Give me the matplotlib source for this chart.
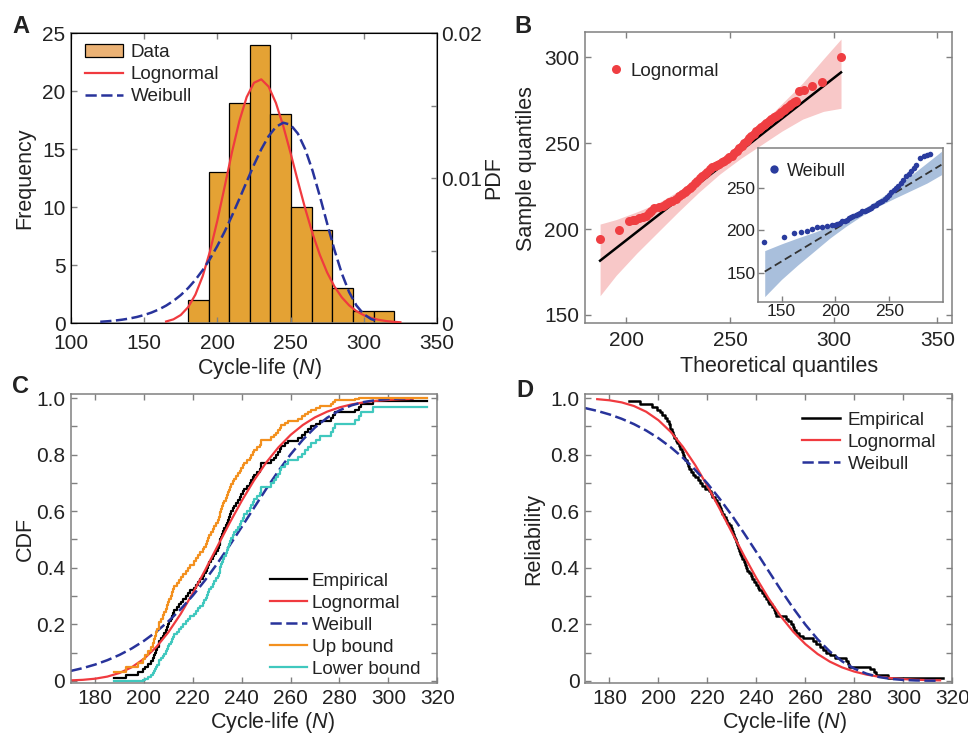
import numpy as np
import matplotlib
matplotlib.use('Agg')
import matplotlib.pyplot as plt
from matplotlib.patches import Patch
from matplotlib.lines import Line2D
from matplotlib.ticker import FixedLocator, MultipleLocator

plt.rcParams['font.family'] = ['Liberation Sans', 'DejaVu Sans']
plt.rcParams['mathtext.fontset'] = 'custom'
plt.rcParams['mathtext.rm'] = 'Liberation Sans'
plt.rcParams['mathtext.it'] = 'Liberation Sans:italic'
plt.rcParams['text.color'] = '#222222'
plt.rcParams['axes.labelcolor'] = '#222222'

# ---------------- panel A : histogram + fitted pdfs
hist_edges = [180.0, 194.0, 208.1, 222.0, 236.3, 250.5, 264.6, 278.5, 292.6, 306.7, 320.8]
hist_counts = [2, 13, 19, 24, 18, 10, 8, 3, 1, 1]

logn_pdf_x = [165, 170, 175, 180, 185, 190, 195, 200, 205, 210, 215, 220, 225, 230, 235, 240, 245,
              250, 255, 260, 265, 270, 275, 280, 285, 290, 295, 300, 305, 310, 315, 320, 325]
logn_pdf = [0.000106, 0.000255, 0.000553, 0.001089, 0.001958, 0.003239, 0.004960, 0.007066,
            0.009415, 0.011786, 0.013923, 0.015579, 0.016569, 0.016807, 0.016308, 0.015180,
            0.013589, 0.011727, 0.009777, 0.007892, 0.006180, 0.004702, 0.003483, 0.002514,
            0.001772, 0.001221, 0.000823, 0.000544, 0.000353, 0.000225, 0.000141, 0.000087, 0.000053]

weib_pdf_x = [120, 125, 130, 135, 140, 145, 150, 155, 160, 165, 170, 175, 180, 185, 190, 195, 200,
              205, 210, 215, 220, 225, 230, 235, 240, 245, 250, 255, 260, 265, 270, 275, 280, 285,
              290, 295, 300, 305, 310]
weib_pdf = [0.000087, 0.000122, 0.000169, 0.000231, 0.000313, 0.000417, 0.000552, 0.000722,
            0.000935, 0.001201, 0.001528, 0.001926, 0.002406, 0.002979, 0.003651, 0.004430,
            0.005319, 0.006312, 0.007398, 0.008556, 0.009742, 0.010909, 0.011984, 0.012887,
            0.013527, 0.013815, 0.013676, 0.013066, 0.011991, 0.010514, 0.008749, 0.006864,
            0.005035, 0.003421, 0.002134, 0.001208, 0.000613, 0.000274, 0.000107]

# ---------------- panel B : probability plots
logn_theo = [187.3, 196.5, 201.1, 203.0, 204.3, 206.3, 208.0, 209.5, 210.8, 211.9, 213.5, 215.5,
             217.5, 219.0, 220.6, 222.2, 223.8, 225.4, 227.0, 228.2, 229.4, 230.6, 231.7, 232.9,
             234.1, 235.3, 236.5, 237.7, 238.9, 240.1, 241.3, 242.5, 243.7, 244.8, 246.0, 247.2,
             248.4, 249.6, 250.8, 252.0, 253.2, 254.4, 255.6, 256.8, 258.0, 259.2, 260.3, 261.5,
             262.7, 263.9, 265.1, 266.3, 267.5, 268.7, 269.8, 271.0, 272.2, 273.4, 274.6, 275.8,
             277.0, 278.2, 279.4, 280.6, 281.7, 283.3, 285.7, 289.7, 294.4, 303.5]
logn_samp = [194.2, 199.4, 204.9, 205.2, 205.4, 206.2, 206.9, 207.8, 209.2, 210.7, 212.2, 212.7,
             213.2, 214.3, 215.5, 216.5, 217.5, 219.0, 220.4, 221.6, 222.8, 224.0, 225.2, 226.7,
             228.2, 229.6, 231.1, 232.3, 233.5, 234.7, 235.9, 236.6, 237.3, 238.0, 238.8, 239.8,
             240.7, 241.7, 242.7, 244.2, 245.6, 247.1, 248.5, 250.0, 251.5, 252.9, 254.4, 255.6,
             256.8, 258.0, 259.2, 260.4, 261.6, 262.8, 264.1, 265.1, 266.0, 267.0, 268.0, 269.2,
             270.4, 271.6, 272.8, 273.8, 274.8, 280.6, 281.2, 283.5, 285.4, 300.4]
logn_line_x = [187.3, 303.5]
logn_line_y = [181.6, 291.2]
logn_band_x = [187.3, 195, 205, 215, 225, 235, 245, 255, 265, 275, 285, 295, 303.5]
logn_band_lo = [161.2, 173, 186, 198, 210, 221.5, 232, 241, 249, 257, 264, 268.5, 270.3]
logn_band_hi = [202.9, 205.5, 210, 215, 222, 230.5, 240, 250.5, 261, 273, 285, 299, 310.6]

weib_theo = [133.8, 152.5, 161.9, 168.1, 173.4, 178.1, 182.8, 187.5, 192.2, 196.8, 199.5, 201.5,
             204.0, 206.2, 208.5, 210.5, 212.4, 214.5, 216.6, 218.7, 220.8, 222.9, 224.9, 227.0,
             229.1, 231.2, 233.3, 235.3, 237.4, 239.5, 241.5, 243.6, 245.7, 247.8, 249.9, 252.0,
             254.0, 256.1, 258.4, 260.8, 263.1, 265.5, 267.8, 270.2, 272.5, 274.8, 278.6, 282.6,
             285.0, 287.3]
weib_samp = [186.7, 191.9, 196.6, 197.9, 199.4, 201.4, 203.4, 203.8, 204.6, 205.8, 206.6, 207.7,
             208.8, 210.5, 211.6, 212.8, 214.4, 215.8, 217.1, 218.4, 219.7, 221.0, 222.3, 223.2,
             224.2, 225.1, 226.8, 228.5, 230.2, 231.8, 233.4, 235.0, 237.4, 239.8, 242.1, 244.8,
             247.4, 250.0, 253.0, 255.9, 259.9, 263.8, 266.8, 269.7, 273.6, 277.6, 285.5, 287.5,
             289.0, 290.6]
weib_line_x = [134.4, 298.3]
weib_line_y = [151.2, 277.6]
weib_band_x = [134.4, 150, 165, 180, 195, 210, 225, 240, 255, 270, 285, 298.3]
weib_band_lo = [121.6, 142, 159, 175, 191, 205, 217.6, 228.6, 238, 247, 256, 265.8]
weib_band_hi = [176, 184, 191, 197.5, 205, 214, 224.6, 236.6, 250, 265, 280, 293.4]

# ---------------- panels C, D : cdf / reliability
cycle_life = [187.8, 192.6, 197.5, 199.5, 200.5, 201.5, 202.8, 203.5, 204.2, 204.6,
              204.9, 205.5, 206.0, 206.3, 207.0, 207.6, 208.3, 209.0, 209.5, 210.0,
              210.4, 211.0, 211.5, 212.0, 212.4, 213.5, 214.3, 215.1, 216.0, 217.0,
              217.9, 219.0, 220.6, 221.3, 222.0, 223.0, 224.0, 224.7, 225.3, 225.7,
              226.1, 226.8, 227.5, 228.1, 228.8, 229.5, 230.2, 230.6, 231.0, 231.3,
              231.6, 232.0, 232.5, 232.9, 233.4, 233.8, 234.3, 234.8, 235.2, 235.7,
              236.3, 237.0, 237.7, 238.4, 239.1, 239.8, 240.5, 241.1, 242.2, 243.2,
              243.9, 244.6, 245.2, 246.3, 247.3, 247.7, 248.0, 252.1, 253.1, 254.1,
              254.8, 255.5, 256.2, 257.5, 258.9, 263.0, 264.5, 265.8, 267.2, 268.5,
              270.2, 271.9, 276.7, 277.5, 278.0, 286.3, 288.0, 289.0, 293.8, 316.0]
cdf_x = [170, 175, 180, 185, 190, 195, 200, 205, 210, 215, 220, 225, 230, 235, 240,
         245, 250, 255, 260, 265, 270, 275, 280, 285, 290, 295, 300, 305, 310, 315]
logn_cdf = [0.00136, 0.0033, 0.00729, 0.01474, 0.02755, 0.04787, 0.0778, 0.1189, 0.1720, 0.2364,
            0.3104, 0.3911, 0.4748, 0.5579, 0.6369, 0.7089, 0.7723, 0.8260, 0.8702, 0.9053,
            0.9324, 0.9527, 0.9676, 0.9782, 0.9856, 0.9907, 0.9941, 0.9963, 0.9977, 0.9986]
weib_cdf = [0.0347, 0.0448, 0.0573, 0.0728, 0.0916, 0.1143, 0.1413, 0.1733, 0.2105, 0.2533,
            0.3018, 0.3558, 0.4149, 0.4783, 0.5445, 0.6119, 0.6787, 0.7425, 0.8013, 0.8531,
            0.8966, 0.9312, 0.9571, 0.9751, 0.9867, 0.9935, 0.9971, 0.9989, 0.9996, 0.9999]

BAR = '#E4A234'
RED = '#F03A3F'
BLUE = '#28339B'
ORANGE = '#F3901E'
CYAN = '#40C8BE'
GRAY = '#808080'
DASH = (0, (4.5, 1.8))


def style(ax, size=15, top=True, right=True, pad=4, xpad=6):
    ax.tick_params(which='both', direction='in', top=top, right=right, length=4, width=1,
                   color=GRAY, labelsize=size, pad=pad, labelcolor='#222222')
    ax.tick_params(axis='x', pad=xpad)
    for s in ax.spines.values():
        s.set_color(GRAY)
        s.set_linewidth(1.1)


fig = plt.figure(figsize=(9.68, 7.36), dpi=100)

# ---- A
axA = fig.add_axes([0.0733, 0.5611, 0.3781, 0.3940])
axA.bar(hist_edges[:-1], hist_counts, width=np.diff(hist_edges), align='edge',
        color=BAR, edgecolor='black', linewidth=0.9)
axA.set_xlim(100, 350)
axA.set_ylim(0, 25)
axA.set_xticks([100, 150, 200, 250, 300, 350])
axA.set_yticks([0, 5, 10, 15, 20, 25])
style(axA, right=False, xpad=8)
axA.set_ylabel('Frequency', fontsize=15.5)
axA.yaxis.set_label_coords(-0.097, 0.5)
axA.set_xlabel('Cycle-life ($N$)', fontsize=15.5)
axA.xaxis.set_label_coords(0.515, -0.115)

axA2 = axA.twinx()
axA2.plot(logn_pdf_x, logn_pdf, color=RED, lw=1.6)
axA2.plot(weib_pdf_x, weib_pdf, color=BLUE, lw=1.8, linestyle=DASH)
axA2.set_ylim(0, 0.02)
axA2.yaxis.set_major_locator(FixedLocator([0, 0.01, 0.02]))
axA2.set_yticklabels(['0', '0.01', '0.02'])
axA2.yaxis.set_minor_locator(FixedLocator([0.005, 0.015]))
axA2.tick_params(which='both', direction='in', left=False, right=True, length=4, width=1,
                 color=GRAY, labelsize=15, pad=3, labelcolor='#222222')
axA2.set_ylabel('PDF', fontsize=15.5)
axA2.yaxis.set_label_coords(1.127, 0.5)
hA = [Patch(facecolor='#EBB275', edgecolor='black', linewidth=0.9),
      Line2D([], [], color=RED, lw=1.6),
      Line2D([], [], color=BLUE, lw=1.8, linestyle=DASH)]
axA2.legend(hA, ['Data', 'Lognormal', 'Weibull'], loc='upper left', bbox_to_anchor=(0.039, 0.962),
            frameon=False, fontsize=13.6, handlelength=2.0, handletextpad=0.42,
            labelspacing=0.25, borderpad=0, borderaxespad=0)

# ---- B
axB = fig.add_axes([0.6043, 0.5611, 0.3791, 0.3954])
axB.fill_between(logn_band_x, logn_band_lo, logn_band_hi, color='#F8C8C8', lw=0)
axB.plot(logn_line_x, logn_line_y, color='black', lw=1.8)
axB.plot(logn_theo, logn_samp, 'o', color='#EF3E42', ms=6.5, mec='none')
axB.set_xlim(180, 357)
axB.set_ylim(145.3, 314.7)
axB.set_xticks([200, 250, 300, 350])
axB.set_yticks([150, 200, 250, 300])
style(axB)
axB.set_xlabel('Theoretical quantiles', fontsize=15.5)
axB.xaxis.set_label_coords(0.528, -0.112)
axB.set_ylabel('Sample quantiles', fontsize=15.5)
axB.yaxis.set_label_coords(-0.131, 0.53)
axB.legend([Line2D([], [], ls='none', marker='o', color='#EF3E42', ms=6.5, mec='none')],
           ['Lognormal'], loc='upper left', bbox_to_anchor=(0.07, 0.895), frameon=False,
           fontsize=13.6, handlelength=0.6, handletextpad=0.45, borderpad=0, borderaxespad=0)

axI = fig.add_axes([0.7831, 0.5901, 0.1911, 0.2088])
axI.fill_between(weib_band_x, weib_band_lo, weib_band_hi, color='#A9BFDC', lw=0)
axI.plot(weib_line_x, weib_line_y, color='#333333', lw=1.3, linestyle=(0, (4.3, 2.2)))
axI.plot(weib_theo, weib_samp, 'o', color='#2A3C9E', ms=4, mec='none')
axI.set_xlim(128.2, 299.8)
axI.set_ylim(115.6, 297.4)
axI.set_xticks([150, 200, 250])
axI.set_yticks([150, 200, 250])
style(axI, size=12.5, top=False, right=False, pad=2, xpad=2)
axI.legend([Line2D([], [], ls='none', marker='o', color='#2A3C9E', ms=6, mec='none')],
           ['Weibull'], loc='upper left', bbox_to_anchor=(0.055, 0.905), frameon=False,
           fontsize=13, handlelength=0.6, handletextpad=0.45, borderpad=0, borderaxespad=0)

# ---- C / D : empirical cdf with 95% bounds
n = len(cycle_life)
F = np.arange(1, n + 1) / n
F_plot = np.append(F[:-1], F[-2])
half = 1.96 * np.sqrt(F_plot * (1 - F_plot) / n)
F_up = np.clip(F_plot + half, 0, 1)
F_lo = np.clip(F_plot - half, 0, 1)

axC = fig.add_axes([0.0730, 0.0716, 0.3787, 0.3927])
axC.step(cycle_life, F_plot, where='post', color='black', lw=1.6, label='Empirical')
axC.plot(cdf_x[:29], logn_cdf[:29], color=RED, lw=1.6, label='Lognormal')
axC.plot(cdf_x[:29], weib_cdf[:29], color=BLUE, lw=1.8, linestyle=DASH, label='Weibull')
axC.step(cycle_life, F_up, where='post', color=ORANGE, lw=1.6, label='Up bound')
axC.step(cycle_life, F_lo, where='post', color=CYAN, lw=1.6, label='Lower bound')
axC.set_xlim(170, 320)
axC.set_ylim(-0.009, 1.014)
axC.set_xticks(range(180, 321, 20))
axC.yaxis.set_major_locator(FixedLocator([0, 0.2, 0.4, 0.6, 0.8, 1.0]))
axC.set_yticklabels(['0', '0.2', '0.4', '0.6', '0.8', '1.0'])
axC.yaxis.set_minor_locator(MultipleLocator(0.1))
style(axC, xpad=4)
axC.set_xlabel('Cycle-life ($N$)', fontsize=15.5)
axC.xaxis.set_label_coords(0.55, -0.093)
axC.set_ylabel('CDF', fontsize=15.5)
axC.yaxis.set_label_coords(-0.095, 0.5)
axC.legend(loc='lower left', bbox_to_anchor=(0.544, 0.02), frameon=False, fontsize=13.6,
           handlelength=1.94, handletextpad=0.26, labelspacing=0.25, borderpad=0, borderaxespad=0)

axD = fig.add_axes([0.6043, 0.0716, 0.3795, 0.3927])
axD.step(cycle_life, 1 - F_plot, where='post', color='black', lw=1.8, label='Empirical')
axD.plot(cdf_x[1:], 1 - np.array(logn_cdf[1:]), color=RED, lw=1.6, label='Lognormal')
axD.plot(cdf_x, 1 - np.array(weib_cdf), color=BLUE, lw=1.8, linestyle=DASH, label='Weibull')
axD.set_xlim(170, 320)
axD.set_ylim(-0.009, 1.014)
axD.set_xticks(range(180, 321, 20))
axD.yaxis.set_major_locator(FixedLocator([0, 0.2, 0.4, 0.6, 0.8, 1.0]))
axD.set_yticklabels(['0', '0.2', '0.4', '0.6', '0.8', '1.0'])
axD.yaxis.set_minor_locator(MultipleLocator(0.1))
style(axD, xpad=4)
axD.set_xlabel('Cycle-life ($N$)', fontsize=15.5)
axD.xaxis.set_label_coords(0.542, -0.093)
axD.set_ylabel('Reliability', fontsize=15.5)
axD.yaxis.set_label_coords(-0.112, 0.5)
axD.legend(loc='upper left', bbox_to_anchor=(0.591, 0.94), frameon=False, fontsize=13.6,
           handlelength=2.0, handletextpad=0.42, labelspacing=0.25, borderpad=0, borderaxespad=0)

for lab, x, y in [('A', 12, 33), ('B', 514, 33), ('C', 12, 393), ('D', 516, 397)]:
    fig.text(x / 968, 1 - y / 736, lab, fontsize=17, fontweight='bold', va='baseline')

fig.savefig('out.png', dpi=100)
